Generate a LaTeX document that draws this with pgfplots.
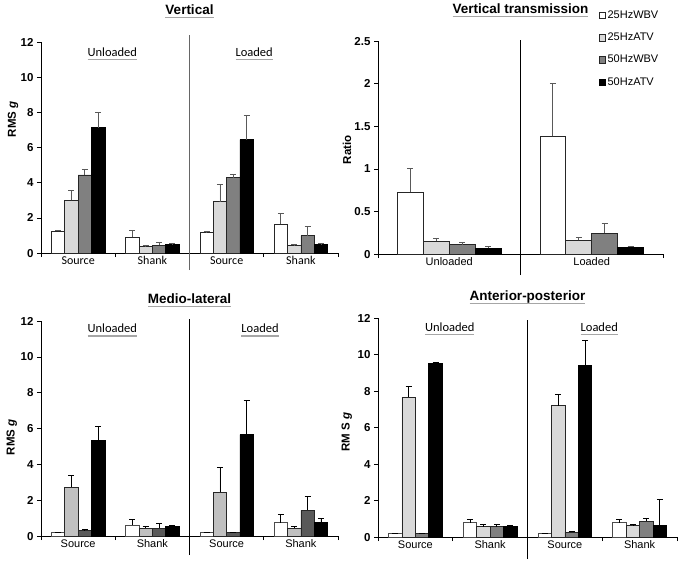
\documentclass[border=0pt]{standalone}
\usepackage{pgfplots}
\pgfplotsset{compat=1.18}
\usepackage{fontspec}
\setmainfont{Liberation Sans}
\newfontfamily\calibri{Carlito}

\definecolor{lg}{HTML}{D9D9D9}
\definecolor{dg}{HTML}{808080}
\definecolor{lgb}{HTML}{C0C0C0}
\definecolor{dgb}{HTML}{595959}
\definecolor{ulgray}{HTML}{A6A6A6}

% gray underline under a word
\newcommand\gul[1]{\setbox0\hbox{#1}\rlap{\color{ulgray}\rule[-4pt]{\wd0}{1.3pt}}\box0}

\pgfplotsset{
  panel/.style={
    scale only axis, axis lines*=left, ymin=0, clip=false,
    ybar=0pt, bar width=0.18,
    tick align=outside, major tick length=4pt,
    axis line style={line width=0.7pt, black},
    tick style={line width=0.7pt, black},
    /pgf/number format/assume math mode=true,
    tick label style={font=\bfseries\fontsize{11.5}{13}\selectfont},
    xticklabels={},
    extra x tick style={major tick length=0pt},
    title style={font=\bfseries\fontsize{13.5}{16}\selectfont, at={(0.5,1)}, anchor=base},
    ylabel style={font=\bfseries\fontsize{11.5}{13}\selectfont, anchor=center},
  },
  eb/.style={
    error bars/y dir=plus, error bars/y explicit,
    error bars/error bar style={line width=0.8pt, draw=#1},
    error bars/error mark options={line width=0.8pt, draw=#1, mark size=3pt, rotate=90},
  },
  eb/.default=black!65,
}

\begin{document}
\begin{tikzpicture}
\path (0pt,0pt) rectangle (683pt,-561pt);

% ---------- Vertical
\begin{axis}[panel, at={(41pt,-251pt)}, anchor=south west,
  width=297pt, height=211pt,
  xmin=-0.5, xmax=3.5, ymax=12, ytick={0,2,...,12},
  xtick={-0.5,0.5,1.5,2.5,3.5},
  extra x ticks={0,1,2,3}, extra x tick labels={Source,Shank,Source,Shank},
  extra x tick style={tick label style={font=\calibri\fontsize{12}{14}\selectfont}},
  title={\gul{Vertical}}, title style={yshift=22pt},
  ylabel={RMS \textit{g}}, ylabel style={at={(rel axis cs:-0.094,0.635)}},
]
\addplot[fill=white, draw=black!85, line width=0.7pt, eb] coordinates
  {(0,1.25) +- (0,0.05) (1,0.91) +- (0,0.38) (2,1.19) +- (0,0.03) (3,1.65) +- (0,0.62)};
\addplot[fill=lg, draw=black!85, line width=0.7pt, eb] coordinates
  {(0,3.00) +- (0,0.56) (1,0.40) +- (0,0.03) (2,2.92) +- (0,0.98) (3,0.42) +- (0,0.05)};
\addplot[fill=dg, draw=black!85, line width=0.7pt, eb] coordinates
  {(0,4.45) +- (0,0.29) (1,0.45) +- (0,0.14) (2,4.30) +- (0,0.17) (3,1.00) +- (0,0.50)};
\addplot[fill=black, draw=black, line width=0.7pt, eb] coordinates
  {(0,7.13) +- (0,0.89) (1,0.49) +- (0,0.06) (2,6.46) +- (0,1.39) (3,0.49) +- (0,0.04)};
\draw[line width=0.7pt, black!60] ([yshift=-17pt]axis cs:1.5,0) -- ([yshift=7pt]axis cs:1.5,12);
\node[font=\calibri\fontsize{12.5}{15}\selectfont, anchor=base] at (axis cs:0.46,11.2) {\gul{Unloaded}};
\node[font=\calibri\fontsize{12.5}{15}\selectfont, anchor=base] at (axis cs:2.37,11.2) {\gul{Loaded}};
\end{axis}

% ---------- Vertical transmission
\begin{axis}[panel, at={(378pt,-252pt)}, anchor=south west,
  width=285pt, height=213pt, bar width=0.182,
  xmin=-0.5, xmax=1.5, ymax=2.5, ytick={0,0.5,...,2.5},
  xtick={-0.5,0.5,1.5},
  extra x ticks={0,1}, extra x tick labels={Unloaded,Loaded},
  extra x tick style={tick label style={font=\fontsize{11}{13}\selectfont}},
  title={\gul{Vertical transmission}}, title style={yshift=22pt},
  ylabel={Ratio}, ylabel style={at={(rel axis cs:-0.109,0.49)}},
  legend style={at={(rel axis cs:0.775,1.15)}, anchor=north west, draw=none, fill=none,
    font=\fontsize{11}{13}\selectfont, row sep=10pt, inner sep=0pt,
    nodes={inner sep=1.5pt}},
  legend cell align=left,
  legend image code/.code={\draw[#1, line width=0.6pt] (0pt,-3.2pt) rectangle (6.4pt,3.2pt);},
]
\addplot[fill=white, draw=black!85, line width=0.7pt, eb] coordinates
  {(0,0.727) +- (0,0.283) (1,1.383) +- (0,0.617)};
\addplot[fill=lg, draw=black!85, line width=0.7pt, eb] coordinates
  {(0,0.152) +- (0,0.028) (1,0.160) +- (0,0.040)};
\addplot[fill=dg, draw=black!85, line width=0.7pt, eb] coordinates
  {(0,0.109) +- (0,0.031) (1,0.246) +- (0,0.109)};
\addplot[fill=black, draw=black, line width=0.7pt, eb] coordinates
  {(0,0.070) +- (0,0.024) (1,0.078) +- (0,0.012)};
\legend{25HzWBV,25HzATV,50HzWBV,50HzATV}
\draw[line width=0.7pt, black] ([yshift=-21pt]axis cs:0.5,0) -- ([yshift=1pt]axis cs:0.5,2.5);
\end{axis}

% ---------- Medio-lateral
\begin{axis}[panel, at={(41pt,-534pt)}, anchor=south west,
  width=297pt, height=215pt,
  xmin=-0.5, xmax=3.5, ymax=12, ytick={0,2,...,12},
  xtick={-0.5,0.5,1.5,2.5,3.5},
  extra x ticks={0,1,2,3}, extra x tick labels={Source,Shank,Source,Shank},
  extra x tick style={tick label style={font=\fontsize{11}{13}\selectfont}},
  title={\gul{Medio-lateral}}, title style={yshift=12pt},
  ylabel={RMS \textit{g}}, ylabel style={at={(rel axis cs:-0.098,0.46)}},
]
\addplot[fill=white, draw=black!70, line width=0.7pt, eb=black] coordinates
  {(0,0.20) +- (0,0.0) (1,0.61) +- (0,0.30) (2,0.20) +- (0,0.0) (3,0.76) +- (0,0.45)};
\addplot[fill=lgb, draw=black!85, line width=0.7pt, eb=black] coordinates
  {(0,2.73) +- (0,0.66) (1,0.45) +- (0,0.07) (2,2.44) +- (0,1.41) (3,0.43) +- (0,0.09)};
\addplot[fill=dgb, draw=black!85, line width=0.7pt, eb=black] coordinates
  {(0,0.30) +- (0,0.09) (1,0.45) +- (0,0.28) (2,0.20) +- (0,0.0) (3,1.43) +- (0,0.78)};
\addplot[fill=black, draw=black, line width=0.7pt, eb=black] coordinates
  {(0,5.32) +- (0,0.78) (1,0.56) +- (0,0.04) (2,5.66) +- (0,1.89) (3,0.76) +- (0,0.23)};
\draw[line width=0.7pt, black] ([yshift=-19pt]axis cs:1.5,0) -- ([yshift=2pt]axis cs:1.5,12);
\node[font=\calibri\fontsize{12.5}{15}\selectfont, anchor=base] at (axis cs:0.46,11.35) {\gul{Unloaded}};
\node[font=\calibri\fontsize{12.5}{15}\selectfont, anchor=base] at (axis cs:2.45,11.35) {\gul{Loaded}};
\end{axis}

% ---------- Anterior-posterior
\begin{axis}[panel, at={(378pt,-535pt)}, anchor=south west,
  width=299pt, height=219pt,
  xmin=-0.5, xmax=3.5, ymax=12, ytick={0,2,...,12},
  xtick={-0.5,0.5,1.5,2.5,3.5},
  extra x ticks={0,1,2,3}, extra x tick labels={Source,Shank,Source,Shank},
  extra x tick style={tick label style={font=\fontsize{11}{13}\selectfont}},
  title={\gul{Anterior-posterior}}, title style={yshift=12pt},
  ylabel={RM S \textit{g}}, ylabel style={at={(rel axis cs:-0.104,0.48)}},
]
\addplot[fill=white, draw=black!70, line width=0.7pt, eb=black] coordinates
  {(0,0.22) +- (0,0.0) (1,0.79) +- (0,0.18) (2,0.22) +- (0,0.0) (3,0.79) +- (0,0.16)};
\addplot[fill=lg, draw=black!85, line width=0.7pt, eb=black] coordinates
  {(0,7.67) +- (0,0.57) (1,0.58) +- (0,0.10) (2,7.21) +- (0,0.61) (3,0.64) +- (0,0.05)};
\addplot[fill=dg, draw=black!85, line width=0.7pt, eb=black] coordinates
  {(0,0.22) +- (0,0.0) (1,0.58) +- (0,0.10) (2,0.27) +- (0,0.04) (3,0.86) +- (0,0.16)};
\addplot[fill=black, draw=black, line width=0.7pt, eb=black] coordinates
  {(0,9.50) +- (0,0.07) (1,0.58) +- (0,0.04) (2,9.41) +- (0,1.39) (3,0.64) +- (0,1.41)};
\draw[line width=0.7pt, black] ([yshift=-22pt]axis cs:1.5,0) -- ([yshift=-2pt]axis cs:1.5,12);
\node[font=\calibri\fontsize{12.5}{15}\selectfont, anchor=base] at (axis cs:0.46,11.29) {\gul{Unloaded}};
\node[font=\calibri\fontsize{12.5}{15}\selectfont, anchor=base] at (axis cs:2.46,11.29) {\gul{Loaded}};
\end{axis}
\end{tikzpicture}
\end{document}
